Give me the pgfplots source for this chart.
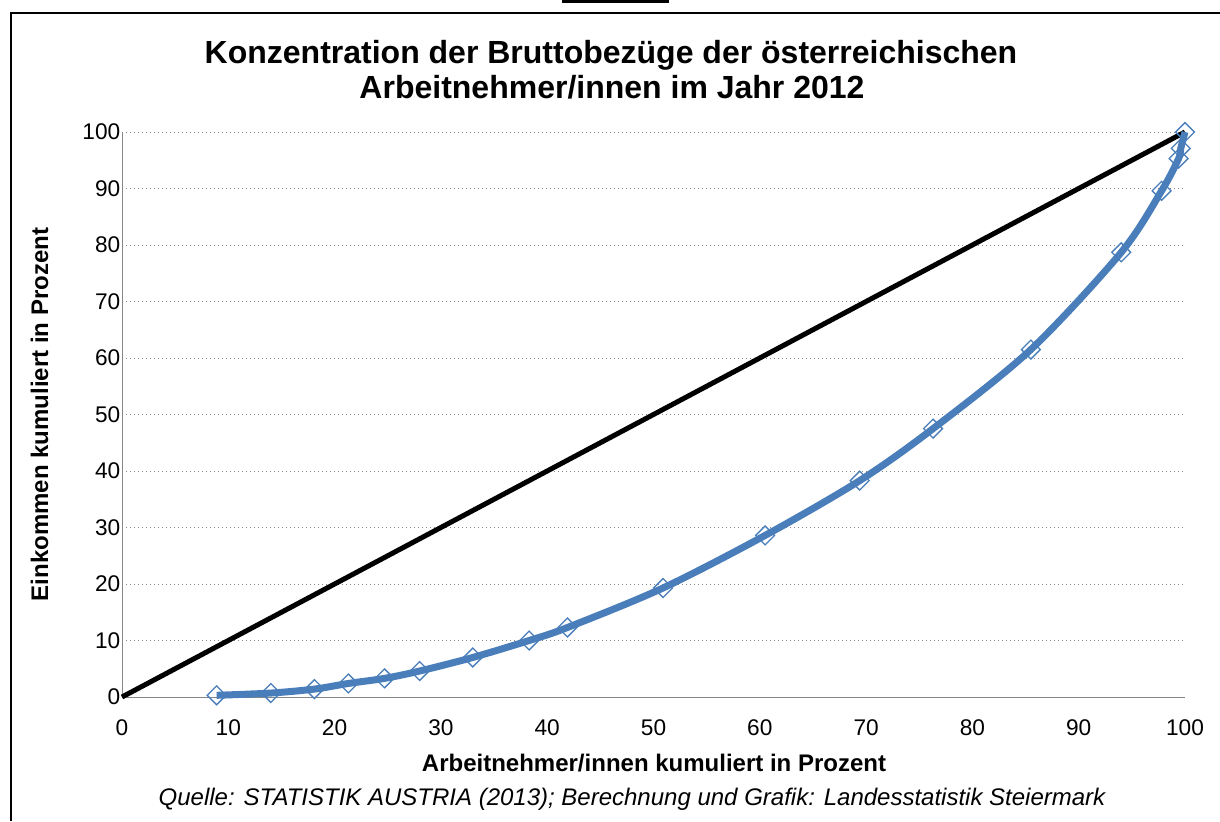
\documentclass[border=0pt]{standalone}
\usepackage{pgfplots}
\pgfplotsset{compat=1.18}
\usepackage{fontspec}
\setmainfont{Liberation Sans}
\definecolor{lblue}{RGB}{74,126,187}
\definecolor{agray}{RGB}{134,134,134}
\pgfplotstableread{
x y
8.9 0.3
14.0 0.7
18.1 1.4
21.3 2.4
24.7 3.3
28.0 4.6
33.0 7.0
38.3 10.0
41.9 12.3
50.9 19.3
60.5 28.6
69.4 38.3
76.3 47.5
85.5 61.5
94.0 78.7
97.8 89.6
99.4 95.3
99.6 97.1
100 100
}\lorenz
\begin{document}
\begin{tikzpicture}[x=0.75pt,y=-0.75pt]
\path[use as bounding box] (0,0) rectangle (1220,821);
\draw[line width=1.5pt] (10.5,821) -- (10.5,12.5) -- (1220,12.5);
\fill (562,0) rectangle (669,2.5);
\node[anchor=base,inner sep=0pt,font=\fontsize{24}{28}\selectfont\bfseries] at (611,63) {Konzentration der Bruttobezüge der österreichischen};
\node[anchor=base,inner sep=0pt,font=\fontsize{24}{28}\selectfont\bfseries] at (612,98) {Arbeitnehmer/innen im Jahr 2012};
\begin{axis}[at={(91.5pt,-522.75pt)}, anchor=south west, scale only axis,
  width=797.25pt, height=423.75pt,
  xmin=0, xmax=100, ymin=0, ymax=100,
  xtick={0,10,...,100}, ytick={0,10,...,100},
  axis lines=left, axis line style={agray, line width=0.75pt, -},
  ymajorgrids, grid style={agray, line width=0.75pt, dash pattern=on 0.75pt off 2.25pt},
  major tick length=0pt,
  tick label style={font=\fontsize{17}{20}\selectfont},
  /pgf/number format/assume math mode=true,
  xticklabel style={yshift=-13.6pt},
  yticklabel style={xshift=2.2pt},
  clip=false]
\addplot[black, line width=3.75pt, no marks] coordinates {(0,0) (100,100)};
\addplot[lblue, line width=5.25pt, smooth, mark=square, mark size=5pt,
  mark options={rotate=45, line width=1pt, fill=none, solid}] table {\lorenz};
\end{axis}
\node[anchor=base,inner sep=0pt,font=\fontsize{18}{21}\selectfont\bfseries] at (654,771) {Arbeitnehmer/innen kumuliert in Prozent};
\node[anchor=base,inner sep=0pt,font=\fontsize{18}{21}\selectfont\itshape] at (632,805) {Quelle: STATISTIK AUSTRIA (2013); Berechnung und Grafik: Landesstatistik Steiermark};
\node[anchor=base,inner sep=0pt,rotate=90,font=\fontsize{18}{21}\selectfont\bfseries] at (48,414.5) {Einkommen kumuliert in Prozent};
\end{tikzpicture}
\end{document}
